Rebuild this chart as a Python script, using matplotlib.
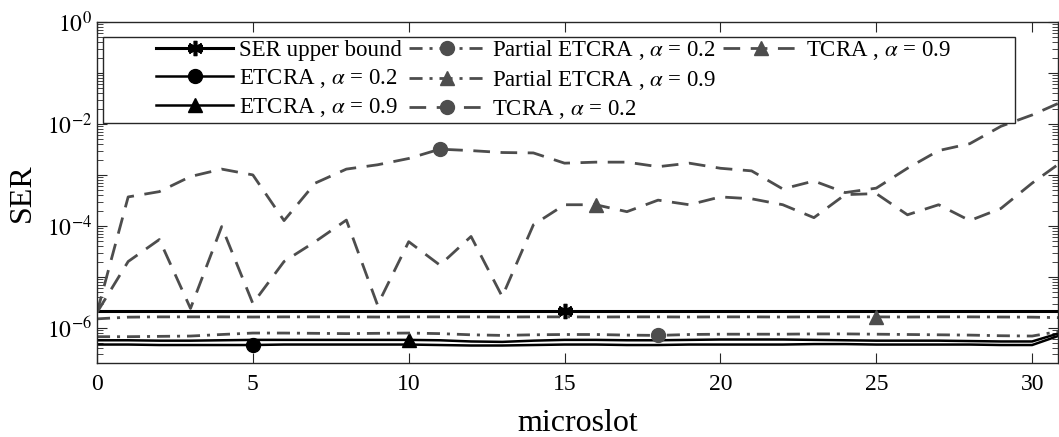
import numpy as np
import matplotlib
matplotlib.use("Agg")
import matplotlib.pyplot as plt
from matplotlib.ticker import LogLocator, FuncFormatter, FixedLocator
from matplotlib.patches import Rectangle
from matplotlib.lines import Line2D

plt.rcParams['font.family'] = ['Liberation Serif', 'DejaVu Serif']
plt.rcParams['mathtext.fontset'] = 'stix'

microslot = np.arange(32)

ser_upper_bound = [2.15e-6] * 32
etcra_02 = [4.7e-7, 4.7e-7, 4.6e-7, 4.6e-7, 4.6e-7, 4.6e-7, 4.7e-7, 4.7e-7,
            4.7e-7, 4.7e-7, 4.7e-7, 4.6e-7, 4.5e-7, 4.5e-7, 4.6e-7, 4.7e-7,
            4.7e-7, 4.6e-7, 4.6e-7, 4.7e-7, 4.7e-7, 4.7e-7, 4.7e-7, 4.8e-7,
            4.8e-7, 4.7e-7, 4.7e-7, 4.7e-7, 4.7e-7, 4.6e-7, 4.6e-7, 7.5e-7]
etcra_09 = [5.7e-7, 5.7e-7, 5.6e-7, 5.6e-7, 5.7e-7, 5.8e-7, 5.8e-7, 5.8e-7,
            5.8e-7, 5.8e-7, 5.8e-7, 5.7e-7, 5.4e-7, 5.3e-7, 5.6e-7, 5.8e-7,
            5.8e-7, 5.7e-7, 5.7e-7, 5.8e-7, 5.9e-7, 5.9e-7, 5.9e-7, 5.8e-7,
            5.7e-7, 5.6e-7, 5.6e-7, 5.6e-7, 5.5e-7, 5.4e-7, 5.4e-7, 8.3e-7]
partial_etcra_02 = [6.7e-7, 6.7e-7, 6.8e-7, 6.9e-7, 7.4e-7, 7.9e-7, 7.9e-7, 7.8e-7,
                    7.7e-7, 7.8e-7, 7.9e-7, 7.7e-7, 7.3e-7, 7.1e-7, 7.3e-7, 7.4e-7,
                    7.4e-7, 7.2e-7, 7.1e-7, 7.4e-7, 7.5e-7, 7.5e-7, 7.5e-7, 7.6e-7,
                    7.6e-7, 7.5e-7, 7.4e-7, 7.3e-7, 7.2e-7, 7.0e-7, 6.9e-7, 8.8e-7]
partial_etcra_09 = [1.50e-6, 1.62e-6, 1.64e-6, 1.64e-6, 1.64e-6, 1.63e-6, 1.64e-6, 1.64e-6,
                    1.64e-6, 1.63e-6, 1.64e-6, 1.64e-6, 1.64e-6, 1.63e-6, 1.64e-6, 1.64e-6,
                    1.63e-6, 1.64e-6, 1.64e-6, 1.63e-6, 1.64e-6, 1.64e-6, 1.63e-6, 1.64e-6,
                    1.64e-6, 1.64e-6, 1.63e-6, 1.64e-6, 1.64e-6, 1.63e-6, 1.62e-6, 1.58e-6]
tcra_02 = [2.0e-6, 3.7e-4, 4.7e-4, 9.3e-4, 1.3e-3, 1.0e-3, 1.27e-4, 6.9e-4,
           1.3e-3, 1.58e-3, 2.1e-3, 3.2e-3, 3.0e-3, 2.75e-3, 2.7e-3, 1.7e-3,
           1.78e-3, 1.78e-3, 1.45e-3, 1.7e-3, 1.35e-3, 1.2e-3, 5.3e-4, 7.6e-4,
           4.5e-4, 5.5e-4, 1.35e-3, 3.0e-3, 4.1e-3, 9.0e-3, 1.5e-2, 2.8e-2]
tcra_09 = [2.0e-6, 2.0e-5, 5.4e-5, 2.4e-6, 9.7e-5, 3.0e-6, 2.0e-5, 4.9e-5,
           1.3e-4, 2.8e-6, 4.9e-5, 1.7e-5, 6.2e-5, 4.1e-6, 1.05e-4, 2.6e-4,
           2.6e-4, 1.9e-4, 3.2e-4, 2.6e-4, 3.7e-4, 3.4e-4, 2.6e-4, 1.45e-4,
           4.1e-4, 4.3e-4, 1.65e-4, 2.6e-4, 1.27e-4, 2.2e-4, 6.9e-4, 1.9e-3]

labels = ['SER upper bound',
          r'ETCRA , $\alpha$ = 0.2',
          r'ETCRA , $\alpha$ = 0.9',
          r'Partial ETCRA , $\alpha$ = 0.2',
          r'Partial ETCRA , $\alpha$ = 0.9',
          r'TCRA , $\alpha$ = 0.2',
          r'TCRA , $\alpha$ = 0.9']
marker_idx = [15, 5, 10, 18, 25, 11, 16]

black = '#000000'
gray = '#4d4d4d'
dashdot = (0, (4.7, 2.5, 1.1, 2.5))
dashed = (0, (6, 3.8))
series = [ser_upper_bound, etcra_02, etcra_09, partial_etcra_02, partial_etcra_09, tcra_02, tcra_09]
styles = [
    dict(color=black, ls='-', marker=(6, 2, 0), ms=11, mew=2.6, lw=2.2),
    dict(color=black, ls='-', marker='o', ms=10, lw=1.8),
    dict(color=black, ls='-', marker='^', ms=10, lw=1.8),
    dict(color=gray, ls=dashdot, marker='o', ms=10, lw=2.0),
    dict(color=gray, ls=dashdot, marker='^', ms=10, lw=2.0),
    dict(color=gray, ls=dashed, marker='o', ms=10, lw=2.0),
    dict(color=gray, ls=dashed, marker='^', ms=10, lw=2.0),
]

W, H = 1059, 437
fig = plt.figure(figsize=(W / 100, H / 100), dpi=100)
ax_l, ax_r, ax_t, ax_b = 97, 1058, 22, 363
ax = fig.add_axes([ax_l / W, 1 - ax_b / H, (ax_r - ax_l) / W, (ax_b - ax_t) / H])

handles = []
for y, lab, st, mi in zip(series, labels, styles, marker_idx):
    h, = ax.plot(microslot, y, label=lab, markevery=[mi], **st)
    handles.append(h)

ax.set_yscale('log')
ax.set_xlim(0, 30.83)
ax.set_ylim(10**-6.69, 1)
ax.set_xticks([0, 5, 10, 15, 20, 25, 30])
ax.yaxis.set_major_locator(FixedLocator([10.0**k for k in range(-6, 1)]))
ax.yaxis.set_minor_locator(LogLocator(base=10, subs=np.arange(2, 10)))
def fmt(v, pos):
    k = int(round(np.log10(v)))
    return r'$10^{%d}$' % k if k % 2 == 0 else ''
ax.yaxis.set_major_formatter(FuncFormatter(fmt))
ax.yaxis.set_minor_formatter(FuncFormatter(lambda v, p: ''))

ax.tick_params(which='both', direction='in', top=True, right=True, colors='#262626',
               labelcolor='black')
ax.tick_params(which='major', length=7, labelsize=17)
ax.tick_params(axis='x', which='major', pad=8)
ax.tick_params(which='minor', length=4)
for s in ax.spines.values():
    s.set_color('#262626')
    s.set_linewidth(1.0)

ax.set_xlabel('microslot', fontsize=23, labelpad=10)
ax.set_ylabel('SER', fontsize=23, labelpad=7)

# legend frame (MATLAB-like, generous padding)
aw, ah = ax_r - ax_l, ax_b - ax_t
fx0, fx1, fy0, fy1 = 103, 1015, 37, 123
rect = Rectangle(((fx0 - ax_l) / aw, 1 - (fy1 - ax_t) / ah),
                 (fx1 - fx0) / aw, (fy1 - fy0) / ah,
                 transform=ax.transAxes, facecolor='white', edgecolor='#262626',
                 linewidth=1.0, zorder=4.5, clip_on=False)
ax.add_patch(rect)

blank = Line2D([], [], linestyle='none', marker='none')
leg = ax.legend(handles + [blank], labels + [''], ncol=3, loc='upper left',
                bbox_to_anchor=((156 - ax_l) / aw, 1 - (38 - ax_t) / ah),
                fontsize=16.5, frameon=False,
                handlelength=3.36, handletextpad=0.26, columnspacing=0.3,
                labelspacing=0.27, borderpad=0.0, borderaxespad=0.0)
leg.set_zorder(5)

fig.savefig('out.png', dpi=100)
